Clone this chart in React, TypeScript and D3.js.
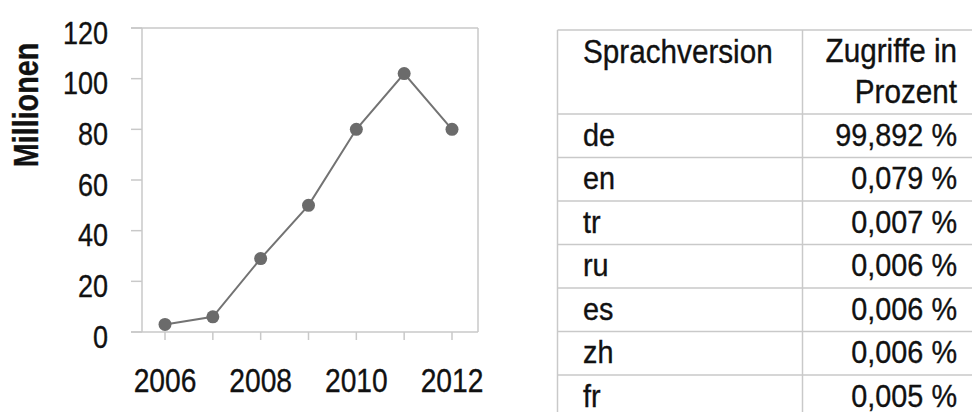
import React from "react";
import * as d3 from "d3";

const years = [2006, 2007, 2008, 2009, 2010, 2011, 2012];
const visits = [3, 6, 29, 50, 80, 102, 80];
const yTicks = [0, 20, 40, 60, 80, 100, 120];
const xTickLabels = [2006, 2008, 2010, 2012];
const yAxisLabel = "Millionen";

const tableHeader = ["Sprachversion", "Zugriffe in", "Prozent"];
const languages = ["de", "en", "tr", "ru", "es", "zh", "fr"];
const percents = ["99,892 %", "0,079 %", "0,007 %", "0,006 %", "0,006 %", "0,006 %", "0,005 %"];

const FONT = "'Liberation Sans', Arial, sans-serif";

function SText(props: {
  x: number;
  y: number;
  sx: number;
  size: number;
  anchor?: string;
  weight?: string;
  rotate?: number;
  children: React.ReactNode;
}) {
  const { x, y, sx, size, anchor = "start", weight = "normal", rotate = 0, children } = props;
  return (
    <g transform={`translate(${x},${y}) rotate(${rotate}) scale(${sx},1)`}>
      <text
        x={0}
        y={0}
        textAnchor={anchor}
        fontSize={size}
        fontWeight={weight}
        fill="#111"
        stroke="#111"
        strokeWidth={0.35}
      >
        {children}
      </text>
    </g>
  );
}

export default function App() {
  const x = d3.scaleLinear().domain([2006, 2012]).range([165, 452]);
  const y = d3.scaleLinear().domain([0, 120]).range([332, 28]);
  const line = d3
    .line<number>()
    .x((_, i) => x(years[i]))
    .y((d) => y(d));

  const frameColor = "#c9c9c9";
  const plotLeft = 142;
  const plotRight = 478;
  const tickLeft = 131;

  // table geometry
  const tLeft = 557.5;
  const tMid = 802.5;
  const tRight = 972;
  const tTop = 30;
  const headerBottom = 114;
  const rowH = 43.5;
  const rowY = d3.range(languages.length + 1).map((i) => headerBottom + i * rowH);

  return (
    <svg
      width={972}
      height={412}
      style={{ position: "absolute", left: 0, top: 0, background: "#fff" }}
      fontFamily={FONT}
    >
      <rect x={0} y={0} width={972} height={412} fill="#fff" />
      {/* frame */}
      <line x1={tickLeft} x2={plotRight} y1={y(120)} y2={y(120)} stroke={frameColor} strokeWidth={1.5} />
      <line x1={tickLeft} x2={plotRight} y1={y(0)} y2={y(0)} stroke={frameColor} strokeWidth={1.5} />
      <line x1={plotLeft} x2={plotLeft} y1={y(120)} y2={y(0)} stroke={frameColor} strokeWidth={1.5} />
      <line x1={plotRight} x2={plotRight} y1={y(120)} y2={y(0)} stroke={frameColor} strokeWidth={1.5} />
      {yTicks.map((t) => (
        <g key={"y" + t}>
          <line x1={tickLeft} x2={plotLeft} y1={y(t)} y2={y(t)} stroke={frameColor} strokeWidth={1.5} />
          <SText x={108} y={y(t) + 15.5} sx={0.87} size={31} anchor="end">
            {t}
          </SText>
        </g>
      ))}
      {years.map((yr) => (
        <line key={"xt" + yr} x1={x(yr)} x2={x(yr)} y1={y(0)} y2={y(0) + 8} stroke={frameColor} strokeWidth={1.5} />
      ))}
      {xTickLabels.map((yr) => (
        <SText key={"xl" + yr} x={x(yr)} y={391.5} sx={0.83} size={34} anchor="middle">
          {yr}
        </SText>
      ))}
      <SText x={38} y={105} sx={0.82} size={35} anchor="middle" weight="bold" rotate={-90}>
        {yAxisLabel}
      </SText>
      <path d={line(visits) || ""} fill="none" stroke="#737373" strokeWidth={2} />
      {visits.map((v, i) => (
        <circle key={"c" + i} cx={x(years[i])} cy={y(v)} r={6.5} fill="#6b6b6b" />
      ))}

      {/* table */}
      <line x1={tLeft} x2={tRight} y1={tTop} y2={tTop} stroke={frameColor} strokeWidth={1.5} />
      {rowY.map((ry, i) => (
        <line key={"r" + i} x1={tLeft} x2={tRight} y1={ry} y2={ry} stroke={frameColor} strokeWidth={1.5} />
      ))}
      <line x1={tLeft} x2={tLeft} y1={tTop} y2={412} stroke={frameColor} strokeWidth={1.5} />
      <line x1={tMid} x2={tMid} y1={tTop} y2={412} stroke={frameColor} strokeWidth={1.5} />
      <SText x={583} y={62.5} sx={0.9} size={33}>
        {tableHeader[0]}
      </SText>
      <SText x={957} y={62} sx={0.9} size={33} anchor="end">
        {tableHeader[1]}
      </SText>
      <SText x={957} y={103} sx={0.9} size={33} anchor="end">
        {tableHeader[2]}
      </SText>
      {languages.map((lang, i) => (
        <g key={lang + i}>
          <SText x={583} y={rowY[i] + 31.5} sx={0.9} size={32}>
            {lang}
          </SText>
          <SText x={957} y={rowY[i] + 31.5} sx={0.9} size={32} anchor="end">
            {percents[i]}
          </SText>
        </g>
      ))}
    </svg>
  );
}
